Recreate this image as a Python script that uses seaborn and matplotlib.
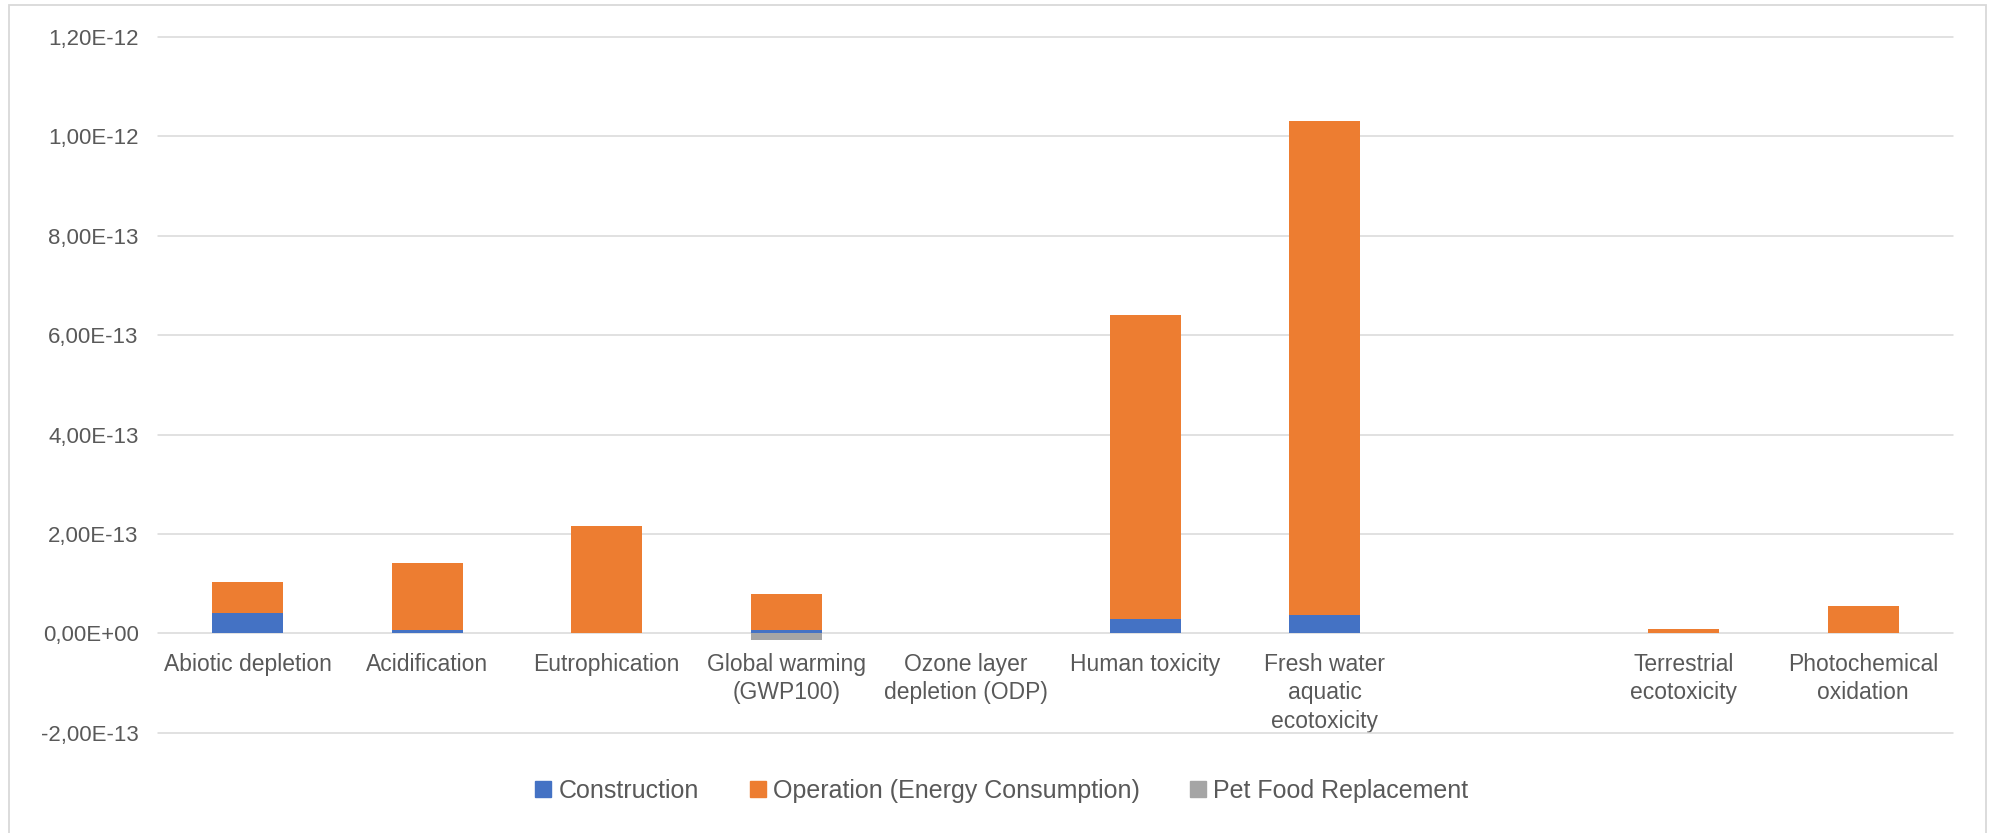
import matplotlib
matplotlib.use("Agg")
import matplotlib.pyplot as plt
from matplotlib.lines import Line2D
from matplotlib.patches import Rectangle
import numpy as np
import pandas as pd
import seaborn as sns

# Impact categories (one slot is left unlabelled)
categories = [
    "Abiotic depletion",
    "Acidification",
    "Eutrophication",
    "Global warming\n(GWP100)",
    "Ozone layer\ndepletion (ODP)",
    "Human toxicity",
    "Fresh water\naquatic\necotoxicity",
    " ",
    "Terrestrial\necotoxicity",
    "Photochemical\noxidation",
]

# Normalised contributions per life-cycle stage
construction = [4.0e-14, 0.7e-14, 0.0, 0.75e-14, 0.0, 2.8e-14, 3.6e-14, 0.0, 0.0, 0.0]
operation = [6.3e-14, 13.5e-14, 21.5e-14, 7.1e-14, 0.0, 61.3e-14, 99.4e-14, 0.0, 0.8e-14, 5.5e-14]
pet_food = [0.0, 0.0, 0.0, -1.4e-14, 0.0, 0.0, 0.0, 0.0, 0.0, 0.0]

series_names = ["Construction", "Operation (Energy Consumption)", "Pet Food Replacement"]
series_colors = ["#4472C4", "#ED7D31", "#A5A5A5"]

y_ticks = [-2e-13, 0.0, 2e-13, 4e-13, 6e-13, 8e-13, 1.0e-12, 1.2e-12]

sns.set_theme(style="white")
plt.rcParams["font.family"] = ["Liberation Sans", "DejaVu Sans"]
text_color = "#595959"
grid_color = "#D9D9D9"

df = pd.DataFrame({
    "category": categories,
    "construction": construction,
    "operation": operation,
    "pet_food": pet_food,
})
df["stack_top"] = df["construction"] + df["operation"]

fig = plt.figure(figsize=(19.91, 8.33), dpi=100)
ax = fig.add_axes([158 / 1991, 1 - 732.7 / 833, (1953 - 158) / 1991, (732.7 - 37) / 833])

bar_w = 0.393
common = dict(x="category", order=categories, width=bar_w, linewidth=0,
              saturation=1, ax=ax, errorbar=None, zorder=3)

# Stacked positive part: full stack in orange, construction drawn over its base
sns.barplot(data=df, y="stack_top", color=series_colors[1], **common)
sns.barplot(data=df, y="construction", color=series_colors[0], **common)
# Negative contribution below the axis
sns.barplot(data=df, y="pet_food", color=series_colors[2], **common)

ax.set_ylim(-2e-13, 1.2e-12)
ax.set_xlim(-0.5, len(categories) - 0.5)
ax.set_yticks(y_ticks)
ax.set_yticklabels([f"{v:.2E}".replace(".", ",") for v in y_ticks])
ax.set_xlabel("")
ax.set_ylabel("")

ax.grid(axis="y", color=grid_color, linewidth=1.1, zorder=0)
ax.grid(axis="x", visible=False)
ax.set_axisbelow(True)
for gl in ax.get_ygridlines():
    gl.set_clip_on(False)
# Category axis sits on the zero line
ax.spines["bottom"].set_position(("data", 0))
for s in ax.spines.values():
    s.set_visible(False)

ax.tick_params(axis="y", length=0, pad=14, labelsize=16, labelcolor=text_color)
ax.tick_params(axis="x", length=0, pad=14, labelsize=16.5, labelcolor=text_color)
for lab in ax.get_xticklabels():
    lab.set_linespacing(1.3)
    lab.set_verticalalignment("top")

handles = [Line2D([0], [0], marker="s", linestyle="none", markersize=11.5,
                  markerfacecolor=c, markeredgecolor=c) for c in series_colors]
leg = fig.legend(handles, series_names, loc="center", bbox_to_anchor=(0.503, 1 - 791 / 833),
                 ncol=3, frameon=False, fontsize=18, handlelength=0.7,
                 handletextpad=0.25, columnspacing=2.0)
for t in leg.get_texts():
    t.set_color(text_color)

# Chart-area frame
fig.patches.append(Rectangle((8.5 / 1991, -0.02), (1986 - 8.5) / 1991, 1 - 5 / 833 + 0.02,
                             transform=fig.transFigure, fill=False,
                             edgecolor=grid_color, linewidth=1.3, zorder=0))

fig.savefig("out.png", dpi=100, facecolor="white")
